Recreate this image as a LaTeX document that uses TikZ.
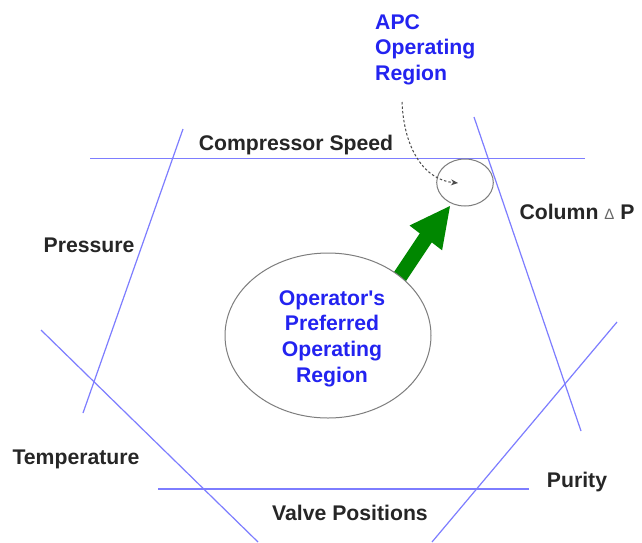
\documentclass[tikz,border=0pt]{standalone}
\usepackage{fontspec}
\setmainfont{Liberation Sans}
\usetikzlibrary{shapes.geometric,arrows.meta}
\definecolor{limitblue}{RGB}{125,125,255}
\definecolor{textblue}{RGB}{35,35,240}
\definecolor{arrowgreen}{RGB}{0,135,0}
\definecolor{ringgray}{RGB}{125,125,125}
\newcommand{\straightquote}{\XeTeXglyph\XeTeXcharglyph"27\relax}
\tikzset{
  limit/.style={draw=limitblue, line width=1.2pt},
  lbl/.style={inner sep=0pt, anchor=base, font=\fontsize{21.2}{25.7}\selectfont\bfseries, text=black!85},
  bluelbl/.style={inner sep=0pt, font=\fontsize{21.2}{25.7}\selectfont\bfseries, text=textblue},
  region/.style={ellipse, draw=ringgray, fill=white, line width=1pt, inner sep=0pt},
}
\begin{document}
\begin{tikzpicture}[x=1pt,y=-1pt]
\useasboundingbox[fill=white] (0,0) rectangle (642,542);
% constraint lines
\coordinate (cs1) at (90,158.5);  \coordinate (cs2) at (585,158.5);
\coordinate (pr1) at (183,129);   \coordinate (pr2) at (83,413);
\coordinate (cp1) at (474,117);   \coordinate (cp2) at (581,431);
\coordinate (te1) at (41,330);    \coordinate (te2) at (258,542);
\coordinate (pu1) at (617,322);   \coordinate (pu2) at (432,542);
\coordinate (vp1) at (158,489);   \coordinate (vp2) at (529,489);
\draw[limit] (cs1) -- (cs2);
\draw[limit] (pr1) -- (pr2);
\draw[limit] (cp1) -- (cp2);
\draw[limit] (te1) -- (te2);
\draw[limit] (pu1) -- (pu2);
\draw[limit] (vp1) -- (vp2);
% labels
\node[lbl] (lcs) at (296,150.5) {Compressor Speed};
\node[lbl] (lpr) at (89,252.5) {Pressure};
\node[lbl] (lcp) at (577,219.5) {Column {\mdseries\fontsize{15}{15}\selectfont\textcolor{black!60}{Δ}} P};
\node[lbl] (lte) at (76,464.5) {Temperature};
\node[lbl] (lpu) at (577,487.5) {Purity};
\node[lbl] (lvp) at (350,520.5) {Valve Positions};
% green arrow
\coordinate (gt1) at (404,284);
\coordinate (gt2) at (392,275);
\coordinate (gb2) at (419.8,233.4);
\coordinate (gh2) at (409.5,225.5);
\coordinate (gtip) at (450,206);
\coordinate (gh1) at (442.1,250.3);
\coordinate (gb1) at (431.8,242.4);
\fill[arrowgreen] (gt1) -- (gt2) -- (gb2) -- (gh2) -- (gtip) -- (gh1) -- (gb1) -- cycle;
% regions
\node[region, minimum width=206, minimum height=165] (pref) at (328,335.5) {};
\node[bluelbl, align=center] (preftext) at (332,338.6) {Operator\straightquote s\\Preferred\\Operating\\Region};
\node[region, fill=none, minimum width=56.6, minimum height=47] (apc) at (465,182.5) {};
\node[bluelbl, align=left, anchor=west] (apctext) at (375,49.6) {APC\\Operating\\Region};
% dashed pointer
\coordinate (dstart) at (402,102);
\coordinate (dend) at (458,183);
\draw[black!70, line width=1pt, dash pattern=on 2.5pt off 2pt, -{Stealth[length=7pt,width=6pt]}]
  (dstart) .. controls (404,150) and (425,180) .. (dend);
\end{tikzpicture}
\end{document}
